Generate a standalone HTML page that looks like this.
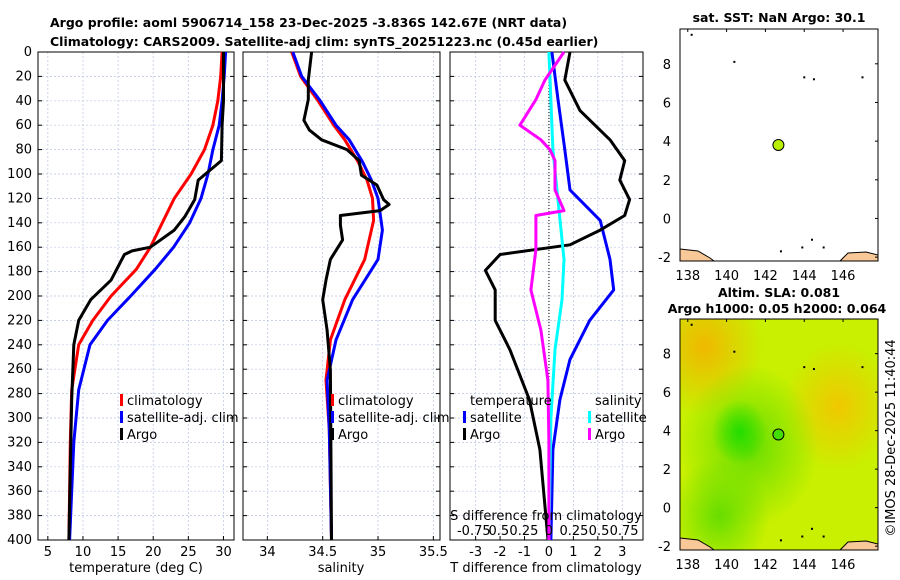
<!DOCTYPE html>
<html><head><meta charset="utf-8"><style>
body{margin:0;background:#fff;}
svg{display:block;font-family:"DejaVu Sans","Liberation Sans",sans-serif;}
</style></head><body>
<svg id="c" width="900" height="580" xmlns="http://www.w3.org/2000/svg">
<defs>
<radialGradient id="g1" cx="0.3" cy="0.49" r="0.14"><stop offset="0" stop-color="#22dd00"/><stop offset="1" stop-color="#22dd00" stop-opacity="0"/></radialGradient>
<radialGradient id="g2" cx="0.8" cy="0.38" r="0.28"><stop offset="0" stop-color="#f0c800"/><stop offset="1" stop-color="#f0c800" stop-opacity="0"/></radialGradient>
<radialGradient id="g3" cx="0.12" cy="0.12" r="0.3"><stop offset="0" stop-color="#f0b800"/><stop offset="1" stop-color="#f0b800" stop-opacity="0"/></radialGradient>
<radialGradient id="g4" cx="0.35" cy="0.55" r="0.35"><stop offset="0" stop-color="#66dd00"/><stop offset="1" stop-color="#66dd00" stop-opacity="0"/></radialGradient>
<radialGradient id="g5" cx="0.2" cy="0.85" r="0.25"><stop offset="0" stop-color="#66dd00"/><stop offset="1" stop-color="#66dd00" stop-opacity="0"/></radialGradient>
</defs>
<text x="50" y="27" font-size="12.5" font-weight="bold">Argo profile: aoml 5906714_158 23-Dec-2025 -3.836S 142.67E (NRT data)</text>
<text x="50" y="46" font-size="12.5" font-weight="bold">Climatology: CARS2009. Satellite-adj clim: synTS_20251223.nc (0.45d earlier)</text>
<g id="plots"></g>
</svg>
<script>
// ---- data ----
const depthTicks=[0,20,40,60,80,100,120,140,160,180,200,220,240,260,280,300,320,340,360,380,400];
const tempTicks=[5,10,15,20,25,30];
const salTicks=[34,34.5,35,35.5];
const tdTicks=[-3,-2,-1,0,1,2,3];
const sdTickLabels=["-0.75","0.5","0.25","0","0.25","0.5","0.75"];
const sdTickVals=[-0.75,-0.5,-0.25,0,0.25,0.5,0.75];
const tClimD=[0,20,40,60,80,100,120,140,160,178,200,220,240,277,320,400];
const tClimV=[29.8,29.6,29.2,28.5,27.3,25.4,23.0,21.3,19.6,17.6,14.0,11.4,9.4,8.4,8.2,8.0];
const tSatD=[0,20,40,60,80,100,120,140,160,178,200,220,240,277,320,400];
const tSatV=[30.3,30.1,29.8,29.4,28.5,27.8,26.8,25.2,22.9,20.3,16.8,13.5,11.0,9.4,8.7,8.1];
const tArgoD=[0,40,60,89,105,121,135,146,160,163,166,187,203,220,240,285,400];
const tArgoV=[30.0,30.0,29.8,29.7,26.4,25.9,24.5,23.0,19.6,17.0,15.9,14.0,11.1,9.4,8.7,8.4,8.0];
const sClimD=[0,20,39,60,72,90,105,120,138,170,203,236,269,310,400];
const sClimV=[34.22,34.3,34.45,34.6,34.7,34.82,34.9,34.95,34.96,34.88,34.7,34.57,34.53,34.56,34.58];
const sSatD=[0,20,39,60,72,90,105,120,146,170,203,236,269,310,400];
const sSatV=[34.23,34.31,34.47,34.62,34.74,34.86,34.94,35.0,35.04,35.0,34.77,34.62,34.54,34.56,34.58];
const sArgoD=[0,23,39,56,64,72,80,89,101,109,121,125,130,134,142,154,170,187,203,228,261,400];
const sArgoV=[34.4,34.37,34.37,34.33,34.38,34.49,34.72,34.83,34.85,34.99,35.05,35.1,35.02,34.66,34.66,34.68,34.57,34.53,34.5,34.54,34.57,34.58];
const tdSatD=[0,39,80,113,138,170,195,220,252,285,326,400];
const tdSatV=[0.12,0.37,0.65,0.86,2.1,2.5,2.65,1.67,0.86,0.45,0.16,0.08];
const tdArgoD=[0,23,48,72,89,105,121,134,146,158,166,179,195,220,244,285,326,400];
const tdArgoV=[0.86,0.65,1.27,2.5,3.1,2.9,3.3,3.1,2.1,0.86,-2.0,-2.6,-2.2,-2.2,-1.6,-0.8,-0.37,-0.04];
const sdSatD=[0,80,170,203,244,300,400];
const sdSatV=[0.0,0.04,0.15,0.13,0.06,0.02,0.0];
const sdArgoD=[0,23,39,60,72,80,89,113,130,134,162,195,228,269,320,400];
const sdArgoV=[0.15,-0.04,-0.13,-0.29,-0.08,0.01,0.06,0.06,0.15,-0.13,-0.13,-0.18,-0.08,-0.01,0.0,0.0];

const NS="http://www.w3.org/2000/svg";
const root=document.getElementById('plots');
function mk(tag,attrs,parent){const e=document.createElementNS(NS,tag);for(const k in attrs)e.setAttribute(k,attrs[k]);(parent||root).appendChild(e);return e;}
const Y0=52,Y1=540;
const yD=d=>Y0+(d/400)*(Y1-Y0);
function panel(x0,x1,xmin,xmax,ticks,name){
  const xs=v=>x0+(v-xmin)/(xmax-xmin)*(x1-x0);
  const g=mk('g',{});
  
  
  ticks.forEach(t=>{mk('line',{x1:xs(t),x2:xs(t),y1:Y0,y2:Y1,stroke:'#b8c4e0','stroke-width':0.7,'stroke-dasharray':'2,2'},g);
    mk('line',{x1:xs(t),x2:xs(t),y1:Y1,y2:Y1-4,stroke:'#000'},g);});
  depthTicks.forEach(d=>{mk('line',{x1:x0,x2:x1,y1:yD(d),y2:yD(d),stroke:'#b8c4e0','stroke-width':0.7,'stroke-dasharray':'2,2'},g);
    mk('line',{x1:x0,x2:x0+4,y1:yD(d),y2:yD(d),stroke:'#000'},g);mk('line',{x1:x1,x2:x1-4,y1:yD(d),y2:yD(d),stroke:'#000'},g);});
  mk('rect',{x:x0,y:Y0,width:x1-x0,height:Y1-Y0,fill:'none',stroke:'#000','stroke-width':1},g);
  return {xs,g};
}
function line(p,D,V,color,name,xs){
  const pts=D.map((d,i)=>xs(V[i]).toFixed(1)+','+yD(d).toFixed(1)).join(' ');
  const e=mk('polyline',{points:pts,fill:'none',stroke:color,'stroke-width':3,'stroke-linejoin':'round'},p.g);
  
  
}
function txt(x,y,s,opt,parent){const e=mk('text',Object.assign({x:x,y:y,'font-size':13},opt||{}),parent);e.textContent=s;return e;}
// panel 1
const p1=panel(38,234,3.6,31.5,tempTicks,'temperature-panel');
depthTicks.forEach(d=>{const t=txt(32,yD(d)+4,String(d),{'text-anchor':'end'});});
tempTicks.forEach(t=>txt(p1.xs(t),556,String(t),{'text-anchor':'middle'}));
txt(136,572,'temperature (deg C)',{'text-anchor':'middle'});
line(p1,tClimD,tClimV,'#f00','temp-climatology-line',p1.xs);
line(p1,tSatD,tSatV,'#00f','temp-satellite-line',p1.xs);
line(p1,tArgoD,tArgoV,'#000','temp-argo-line',p1.xs);
// panel 2
const p2=panel(243,440,33.78,35.56,salTicks,'salinity-panel');
salTicks.forEach(t=>txt(p2.xs(t),556,String(t),{'text-anchor':'middle'}));
txt(341,572,'salinity',{'text-anchor':'middle'});
line(p2,sClimD,sClimV,'#f00','sal-climatology-line',p2.xs);
line(p2,sSatD,sSatV,'#00f','sal-satellite-line',p2.xs);
line(p2,sArgoD,sArgoV,'#000','sal-argo-line',p2.xs);
// panel 3
const p3=panel(450,643,-4.05,3.85,tdTicks,'difference-panel');
const sx=v=>p3.xs(0)+v*4.1*(p3.xs(1)-p3.xs(0));
mk('line',{x1:p3.xs(0),x2:p3.xs(0),y1:Y0,y2:Y1,stroke:'#000','stroke-width':1,'stroke-dasharray':'1,2'},p3.g);
tdTicks.forEach(t=>txt(p3.xs(t),556,String(t),{'text-anchor':'middle'}));
txt(546,572,'T difference from climatology',{'text-anchor':'middle'});
line(p3,tdSatD,tdSatV,'#00f','tdiff-satellite-line',p3.xs);
line(p3,tdArgoD,tdArgoV,'#000','tdiff-argo-line',p3.xs);
line(p3,sdSatD,sdSatV,'#0ff','sdiff-satellite-line',sx);
line(p3,sdArgoD,sdArgoV,'#f0f','sdiff-argo-line',sx);
txt(546,520,'S difference from climatology',{'text-anchor':'middle'});
sdTickVals.forEach((v,i)=>txt(sx(v),535,sdTickLabels[i],{'text-anchor':'middle'}));
// legends
function leg(x,y,c,s,name){const g=mk('g',{});
 mk('rect',{x:x,y:y-11,width:3,height:12,fill:c},g);txt(x+7,y,s,{},g);}
leg(120,405,'#f00','climatology','legend-temp-climatology');
leg(120,422,'#00f','satellite-adj. clim','legend-temp-satellite');
leg(120,439,'#000','Argo','legend-temp-argo');
leg(331,405,'#f00','climatology','legend-sal-climatology');
leg(331,422,'#00f','satellite-adj. clim','legend-sal-satellite');
leg(331,439,'#000','Argo','legend-sal-argo');
txt(470,405,'temperature');txt(595,405,'salinity');
leg(463,422,'#00f','satellite','legend-tdiff-satellite');
leg(463,439,'#000','Argo','legend-tdiff-argo');
leg(588,422,'#0ff','satellite','legend-sdiff-satellite');
leg(588,439,'#f0f','Argo','legend-sdiff-argo');
// maps
const lonTicks=[138,140,142,144,146];
const latTicks=[-2,0,2,4,6,8];
const floatLon=142.67, floatLat=3.8;
function map(x0,y0,x1,y1,latMin,latMax,name,sla){
  const lx=v=>x0+(v-137.6)/(147.8-137.6)*(x1-x0);
  const ly=v=>y1-(v-latMin)/(latMax-latMin)*(y1-y0);
  const g=mk('g',{});
  if(sla){mk('rect',{x:x0,y:y0,width:x1-x0,height:y1-y0,fill:'#c8f000'},g);
    ['g3','g2','g4','g5','g1'].forEach(id=>mk('rect',{x:x0,y:y0,width:x1-x0,height:y1-y0,fill:'url(#'+id+')'},g));}
  mk('path',{d:`M${x0} ${y1-12} L${x0+18} ${y1-10} L${x0+30} ${y1-3} L${x0+34} ${y1} L${x0} ${y1}Z`,fill:'#f8c898',stroke:'#000','stroke-width':1},g);
  mk('path',{d:`M${x1-38} ${y1} L${x1-30} ${y1-8} L${x1-12} ${y1-9} L${x1} ${y1-6} L${x1} ${y1}Z`,fill:'#f8c898',stroke:'#000','stroke-width':1},g);
  [[138.2,9.5],[140.4,8.1],[144,7.3],[144.5,7.2],[147,7.3],[142.8,-1.7],[144.4,-1.1],[145,-1.5],[143.9,-1.5]].forEach(p=>mk('rect',{x:lx(p[0])-1,y:ly(p[1])-1,width:2,height:2,fill:'#000'},g));
  mk('circle',{cx:lx(floatLon),cy:ly(floatLat),r:5.5,fill:sla?'#44dd00':'#b8f000',stroke:'#000','stroke-width':1},g);
  mk('rect',{x:x0,y:y0,width:x1-x0,height:y1-y0,fill:'none',stroke:'#000'},g);
  lonTicks.forEach(t=>{txt(lx(t),y1+19,String(t),{'text-anchor':'middle'});mk('line',{x1:lx(t),x2:lx(t),y1:y0,y2:y0+3,stroke:'#000'},g);});
  latTicks.forEach(t=>{txt(x0-9,ly(t)+5,String(t),{'text-anchor':'end'});mk('line',{x1:x1,x2:x1-3,y1:ly(t),y2:ly(t),stroke:'#000'},g);});
}
map(680,29,878,261,-2.2,9.8,'sst-map',false);
map(680,319,878,550,-2.2,9.8,'sla-map',true);
txt(779,22,'sat. SST: NaN Argo: 30.1',{'text-anchor':'middle','font-weight':'bold','font-size':12.5});
txt(779,297,'Altim. SLA: 0.081',{'text-anchor':'middle','font-weight':'bold','font-size':12.5});
txt(777,313,'Argo h1000: 0.05 h2000: 0.064',{'text-anchor':'middle','font-weight':'bold','font-size':12.5});
const st=txt(0,0,'©IMOS 28-Dec-2025 11:40:44',{'text-anchor':'middle',transform:'translate(895,438) rotate(-90)'});


</script>
</body></html>
